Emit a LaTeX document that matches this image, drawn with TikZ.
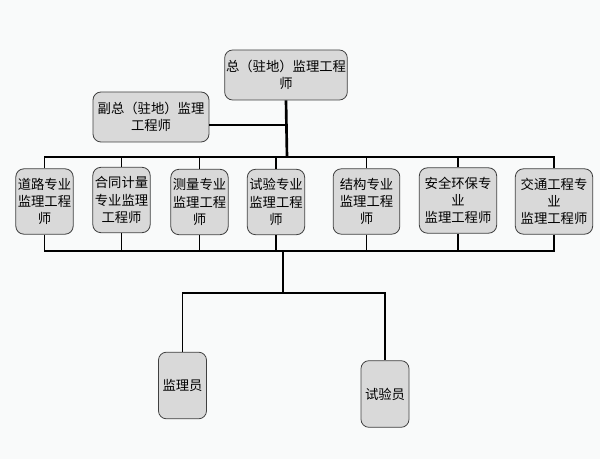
\documentclass[tikz,border=0pt]{standalone}
\usepackage{fontspec}
\setmainfont{Noto Sans CJK SC}
\usetikzlibrary{positioning,calc}
\definecolor{bgwhite}{RGB}{249,250,250}
\definecolor{boxgray}{RGB}{217,217,217}
\definecolor{boxedge}{RGB}{64,64,64}

\begin{document}
\begin{tikzpicture}[%
    x=0.75pt,y=-0.75pt,
    graybox/.style={draw=boxedge,fill=boxgray,semithick,rounded corners=6pt,
                    align=center,inner sep=1pt,font=\fontsize{10}{13}\selectfont},
    every node/.style={graybox},
    bus/.style={draw,line width=1.4pt}
    ]
    \fill[bgwhite] (0,0) rectangle (600,459);
    \useasboundingbox (0,0) rectangle (600,459);
    %%% Leiding
    \node[minimum width=86pt,minimum height=37.5pt] (zong) at (286,75) {总（驻地）监理工程\\师};
    \node[minimum width=87pt,minimum height=37.5pt] (fuzong) at (151,117) {副总（驻地）监理\\工程师};
    %%% Vakingenieurs
    \node[minimum width=43pt,minimum height=49pt] (daolu) at (44.5,201.5) {道路专业\\监理工程\\师};
    \node[minimum width=43pt,minimum height=49pt] (hetong) at (121.5,200) {合同计量\\专业监理\\工程师};
    \node[minimum width=43pt,minimum height=49pt] (celiang) at (199.5,202) {测量专业\\监理工程\\师};
    \node[minimum width=43pt,minimum height=49pt] (shiyan) at (276,202) {试验专业\\监理工程\\师};
    \node[minimum width=50pt,minimum height=49pt] (jiegou) at (366.5,201.5) {结构专业\\监理工程\\师};
    \node[minimum width=58pt,minimum height=49pt] (anquan) at (458,200.5) {安全环保专\\业\\监理工程师};
    \node[minimum width=58pt,minimum height=49pt] (jiaotong) at (554,201.5) {交通工程专\\业\\监理工程师};
    %%% Uitvoerders
    \node[minimum width=36pt,minimum height=50pt] (jianliyuan) at (182.5,385.5) {监理员};
    \node[minimum width=36pt,minimum height=50pt] (shiyanyuan) at (385,394) {试验员};
    %%% Knooppunten
    \coordinate (top_bus) at (287,157);
    \coordinate (bot_bus) at (283,251);
    \coordinate (split) at (283,293);
    \path[bus,line width=2pt] (zong.south) -- (top_bus);
    \path[bus]
        ([yshift=-6pt]fuzong.east) -- ([yshift=-6pt]fuzong.east -| zong.south)
        %%% naar vakingenieurs
        (daolu.north) |- (top_bus)
        (hetong.north) |- (top_bus)
        (celiang.north) |- (top_bus)
        (shiyan.north) |- (top_bus)
        (jiegou.north) |- (top_bus)
        (anquan.north) |- (top_bus)
        (jiaotong.north) |- (top_bus)
        %%% onderste verzamellijn
        (daolu.south) |- (bot_bus)
        (hetong.south) |- (bot_bus)
        (celiang.south) |- (bot_bus)
        (shiyan.south) |- (bot_bus)
        (jiegou.south) |- (bot_bus)
        (anquan.south) |- (bot_bus)
        (jiaotong.south) |- (bot_bus)
        %%% naar uitvoerders
        (bot_bus) -- (split)
        (split) -| (jianliyuan.north)
        (split) -| (shiyanyuan.north)
        ;
\end{tikzpicture}
\end{document}
